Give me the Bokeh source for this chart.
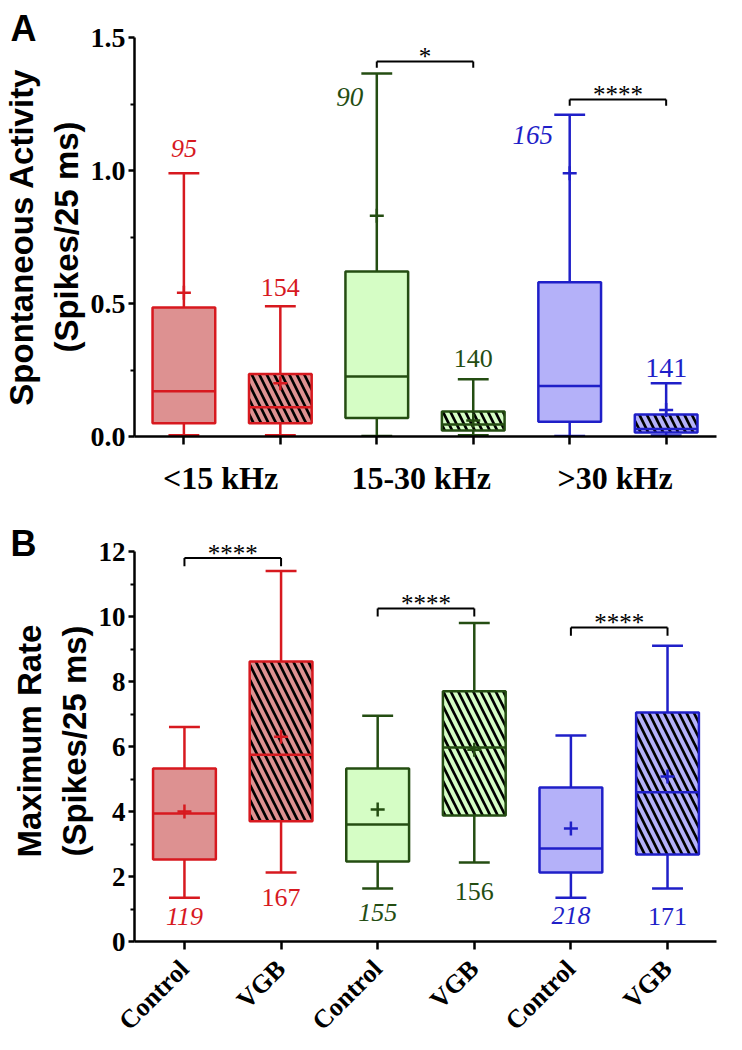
from math import pi
from bokeh.plotting import figure
from bokeh.layouts import column
from bokeh.models import Range1d, FixedTicker, ColumnDataSource, PrintfTickFormatter
from bokeh.embed import file_html
from bokeh.resources import INLINE
from bokeh.core.properties import value

# ---------------- data ----------------
positions = [1, 2, 3, 4, 5, 6]
conditions = ["Control", "VGB", "Control", "VGB", "Control", "VGB"]
freq_groups = ["<15 kHz", "15-30 kHz", ">30 kHz"]
freq_group_pos = [1.38, 3.46, 5.47]

# Panel A - spontaneous activity (spikes / 25 ms)
a_upper = [0.99, 0.49, 1.365, 0.215, 1.21, 0.20]
a_q3 = [0.485, 0.235, 0.62, 0.094, 0.58, 0.083]
a_median = [0.17, 0.11, 0.226, 0.045, 0.19, 0.028]
a_q1 = [0.05, 0.05, 0.07, 0.023, 0.055, 0.015]
a_lower = [0.005, 0.005, 0.002, 0.005, 0.002, 0.004]
a_mean = [0.54, 0.20, 0.83, 0.06, 0.99, 0.10]
a_n = ["95", "154", "90", "140", "165", "141"]
a_n_y = [1.083, 0.56, 1.278, 0.293, 1.135, 0.256]
a_sig_text = ["*", "****"]
a_sig_left = [3, 5]
a_sig_right = [4, 6]
a_sig_y = [1.41, 1.267]

# Panel B - maximum rate (spikes / 25 ms)
b_upper = [6.6, 11.4, 6.95, 9.8, 6.34, 9.1]
b_q3 = [5.32, 8.62, 5.32, 7.7, 4.74, 7.05]
b_median = [3.94, 5.75, 3.6, 5.97, 2.86, 4.59]
b_q1 = [2.52, 3.7, 2.46, 3.88, 2.12, 2.68]
b_lower = [1.35, 2.12, 1.63, 2.43, 1.35, 1.63]
b_mean = [4.0, 6.3, 4.06, 5.9, 3.48, 5.08]
b_n = ["119", "167", "155", "156", "218", "171"]
b_n_y = [0.77, 1.35, 0.89, 1.54, 0.80, 0.77]
b_sig_text = ["****", "****", "****"]
b_sig_left = [1, 3, 5]
b_sig_right = [2, 4, 6]
b_sig_y = [11.8, 10.25, 9.66]

# ---------------- styles ----------------
STROKE = ["#d7191f", "#d7191f", "#244d12", "#244d12", "#1f1fc8", "#1f1fc8"]
FILL = ["#dd9191", "#dd9191", "#d5fdc5", "#d5fdc5", "#b4b1f9", "#b4b1f9"]
HATCH = [" ", "\\", " ", "\\", " ", "\\"]
ITALIC = [True, False, True, False, True, False]
BOX_W = 0.65
CAP_W = 0.32
LW = 2.5
SERIF = "Liberation Serif"
SANS = "Liberation Sans"


def style_common(p, letter, standoff):
    p.outline_line_color = None
    p.xgrid.visible = False
    p.ygrid.visible = False
    p.background_fill_color = "white"
    p.border_fill_color = "white"
    p.title.text = letter
    p.title.align = "left"
    p.title.offset = -124
    p.title.standoff = standoff
    p.title.text_font = SANS
    p.title.text_font_style = "bold"
    p.title.text_font_size = "36px"
    p.title.text_color = "black"


def draw_boxes(p, upper, q3, med, q1, lower, mean):
    src = ColumnDataSource(dict(
        x=positions, upper=upper, q3=q3, med=med, q1=q1, lower=lower, mean=mean,
        x0=[x - BOX_W / 2 for x in positions], x1=[x + BOX_W / 2 for x in positions],
        c0=[x - CAP_W / 2 for x in positions], c1=[x + CAP_W / 2 for x in positions],
        stroke=STROKE, fill=FILL, hatch=HATCH,
    ))
    p.segment(x0="x", y0="q3", x1="x", y1="upper", source=src, line_color="stroke", line_width=LW)
    p.segment(x0="x", y0="q1", x1="x", y1="lower", source=src, line_color="stroke", line_width=LW)
    p.segment(x0="c0", y0="upper", x1="c1", y1="upper", source=src, line_color="stroke", line_width=LW)
    p.segment(x0="c0", y0="lower", x1="c1", y1="lower", source=src, line_color="stroke", line_width=LW)
    p.vbar(x="x", width=BOX_W, top="q3", bottom="q1", source=src, fill_color="fill",
           line_color="stroke", line_width=LW, hatch_pattern="hatch", hatch_color="black",
           hatch_scale=15, hatch_weight=2.7)
    p.segment(x0="x0", y0="med", x1="x1", y1="med", source=src, line_color="stroke", line_width=LW)
    p.scatter(x="x", y="mean", source=src, marker="cross", size=14, line_color="stroke", line_width=LW)


def draw_counts(p, labels, ys, dx, sizes):
    for i, (t, y) in enumerate(zip(labels, ys)):
        p.text([positions[i]], [y], [t], text_font=value(SERIF), text_font_size=sizes[i],
               text_font_style="italic" if ITALIC[i] else "normal", text_color=STROKE[i],
               text_align="center", text_baseline="middle", x_offset=dx[i])


def draw_sig(p, lefts, rights, ys, texts, drop, star_off):
    for l, r, y, t in zip(lefts, rights, ys, texts):
        p.segment([l, l, r], [y - drop, y, y], [l, r, r], [y, y, y - drop],
                  line_color="black", line_width=2)
        p.text([(l + r) / 2], [y], [t], text_font=value(SERIF), text_font_size="25px",
               text_color="black", text_align="center", text_baseline="middle", y_offset=star_off)


def style_yaxis(ax, font_size, label, bounds):
    ax.bounds = bounds
    ax.axis_label = label
    ax.axis_label_text_font = SANS
    ax.axis_label_text_font_style = "bold"
    ax.axis_label_text_font_size = "33px"
    ax.axis_label_text_color = "black"
    ax.axis_label_standoff = 3
    ax.major_label_text_font = SERIF
    ax.major_label_text_font_style = "bold"
    ax.major_label_text_font_size = font_size
    ax.major_label_text_color = "black"
    ax.major_label_standoff = 3
    ax.axis_line_width = LW
    ax.axis_line_color = "black"
    ax.major_tick_line_width = LW
    ax.major_tick_out = 6
    ax.major_tick_in = 0
    ax.minor_tick_line_width = 2
    ax.minor_tick_out = 4
    ax.minor_tick_in = 0


# ---------------- panel A ----------------
pA = figure(width=726, height=504, x_range=Range1d(0.488, 6.522), y_range=Range1d(0, 1.5),
            output_backend="svg", toolbar_location=None,
            min_border_left=122, min_border_right=3, min_border_top=37, min_border_bottom=68)
style_common(pA, "A", -22)
draw_boxes(pA, a_upper, a_q3, a_median, a_q1, a_lower, a_mean)
draw_counts(pA, a_n, a_n_y, [0, 0, -27, 0, -37, 0],
            ["26px", "26px", "27px", "26px", "27px", "28px"])
draw_sig(pA, a_sig_left, a_sig_right, a_sig_y, a_sig_text, 0.024, -5)

yA = pA.yaxis[0]
yA.ticker = FixedTicker(ticks=[0, 0.5, 1.0, 1.5], minor_ticks=[0.25, 0.75, 1.25])
yA.formatter = PrintfTickFormatter(format="%.1f")
style_yaxis(yA, "28px", "Spontaneous Activity\n(Spikes/25 ms)", (0, 1.5))

xA = pA.xaxis[0]
xA.ticker = FixedTicker(ticks=freq_group_pos, minor_ticks=positions)
xA.major_label_overrides = {k: v for k, v in zip(freq_group_pos, freq_groups)}
xA.major_tick_line_color = None
xA.major_tick_out = 0
xA.major_tick_in = 0
xA.minor_tick_line_width = LW
xA.minor_tick_line_color = "black"
xA.minor_tick_out = 8
xA.minor_tick_in = 0
xA.axis_line_width = LW
xA.axis_line_color = "black"
xA.major_label_text_font = SERIF
xA.major_label_text_font_style = "bold"
xA.major_label_text_font_size = "32px"
xA.major_label_text_color = "black"
xA.major_label_standoff = 15

# ---------------- panel B ----------------
pB = figure(width=726, height=544, x_range=Range1d(0.483, 6.507), y_range=Range1d(0, 12.34),
            output_backend="svg", toolbar_location=None,
            min_border_left=122, min_border_right=10, min_border_top=36, min_border_bottom=107)
style_common(pB, "B", -46)
draw_boxes(pB, b_upper, b_q3, b_median, b_q1, b_lower, b_mean)
draw_counts(pB, b_n, b_n_y, [0, 0, 0, 0, 0, 0], ["26px"] * 6)
draw_sig(pB, b_sig_left, b_sig_right, b_sig_y, b_sig_text, 0.25, -5)

yB = pB.yaxis[0]
yB.ticker = FixedTicker(ticks=[0, 2, 4, 6, 8, 10, 12], minor_ticks=[1, 3, 5, 7, 9, 11])
style_yaxis(yB, "27px", "Maximum Rate\n(Spikes/25 ms)", (0, 12))

xB = pB.xaxis[0]
xB.ticker = FixedTicker(ticks=positions, minor_ticks=[])
xB.major_label_overrides = {k: v for k, v in zip(positions, conditions)}
xB.major_label_orientation = pi / 4
xB.major_tick_line_width = LW
xB.major_tick_out = 8
xB.major_tick_in = 0
xB.axis_line_width = LW
xB.axis_line_color = "black"
xB.major_label_text_font = SERIF
xB.major_label_text_font_style = "bold"
xB.major_label_text_font_size = "26px"
xB.major_label_text_color = "black"
xB.major_label_standoff = 15

layout = column(pA, pB)
open("out.html", "w").write(file_html(layout, INLINE))
